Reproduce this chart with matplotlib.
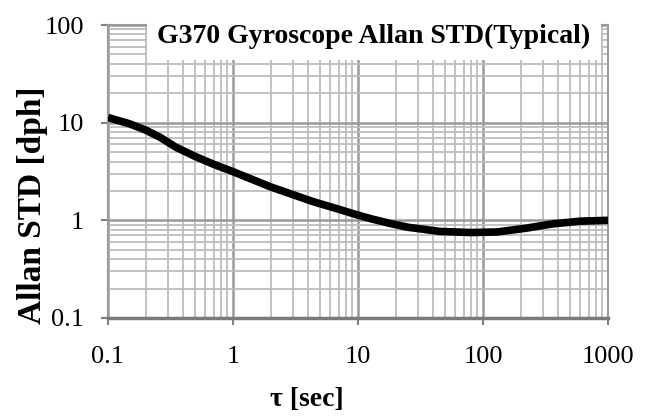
import matplotlib
matplotlib.use("Agg")
import matplotlib.pyplot as plt
from matplotlib.patches import Rectangle
from matplotlib.ticker import LogLocator, NullFormatter, FixedLocator

# data
tau = [0.1, 0.15, 0.2, 0.26, 0.35, 0.5, 0.7, 1.0, 2.0, 4.4, 7.0, 10.0, 13.0, 18.0, 25.0, 45.0, 80.0, 130.0, 220.0, 360.0, 600.0, 1000.0]
adev = [11.3, 9.7, 8.4, 7.1, 5.6, 4.5, 3.75, 3.15, 2.2, 1.55, 1.30, 1.13, 1.03, 0.93, 0.85, 0.77, 0.75, 0.76, 0.83, 0.92, 0.98, 1.0]
xticks = [0.1, 1, 10, 100, 1000]
xticklabels = ["0.1", "1", "10", "100", "1000"]
yticks = [0.1, 1, 10, 100]
yticklabels = ["0.1", "1", "10", "100"]
title = "G370 Gyroscope Allan STD(Typical)"
xlabel = "τ [sec]"
ylabel = "Allan STD [dph]"

W, H = 650, 420
fig = plt.figure(figsize=(6.5, 4.2), dpi=100)
ax = fig.add_axes([108 / W, 1 - 318 / H, 500 / W, 293 / H])
ax.set_xscale("log")
ax.set_yscale("log")
ax.set_xlim(0.1, 1000)
ax.set_ylim(0.1, 100)

ax.xaxis.set_major_locator(FixedLocator(xticks))
ax.yaxis.set_major_locator(FixedLocator(yticks))
ax.xaxis.set_minor_locator(LogLocator(base=10, subs=range(2, 10), numticks=20))
ax.yaxis.set_minor_locator(LogLocator(base=10, subs=range(2, 10), numticks=20))
ax.xaxis.set_minor_formatter(NullFormatter())
ax.yaxis.set_minor_formatter(NullFormatter())
ax.set_xticklabels(xticklabels)
ax.set_yticklabels(yticklabels)

ax.grid(True, which="major", color="#9a9a9a", lw=1.8)
ax.grid(True, which="minor", color="#bdbdbd", lw=1.3)
ax.set_axisbelow(True)

ax.tick_params(which="major", length=5, width=1.5, color="#808080",
               labelsize=19, pad=12)
ax.tick_params(axis="x", which="major", pad=15)
ax.tick_params(which="minor", length=0)
for lab in ax.get_xticklabels() + ax.get_yticklabels():
    lab.set_family("Liberation Serif")

for side in ["top", "right", "left"]:
    ax.spines[side].set_color("#9a9a9a")
    ax.spines[side].set_linewidth(1.5)
ax.spines["bottom"].set_color("#7a7a7a")
ax.spines["bottom"].set_linewidth(2.5)

ax.plot(tau, adev, color="black", lw=5.5, solid_capstyle="butt",
        solid_joinstyle="round", zorder=4)

# white box behind the title
ax.add_patch(Rectangle((0.078, 0.88), 0.908, 0.14, transform=ax.transAxes,
                       facecolor="white", edgecolor="none", zorder=3, clip_on=False))

fig.text(374 / W, 1 - 36 / H, title, ha="center", va="center",
         fontsize=20, fontweight="bold", family="Liberation Serif", zorder=5)
fig.text(307 / W, 1 - 399 / H, xlabel, ha="center", va="center",
         fontsize=20, fontweight="bold", family="Liberation Serif")
fig.text(33 / W, 1 - 205 / H, ylabel, ha="center", va="center", rotation=90,
         fontsize=24, fontweight="bold", family="Liberation Serif")

fig.savefig("out.png", dpi=100, facecolor="white")
